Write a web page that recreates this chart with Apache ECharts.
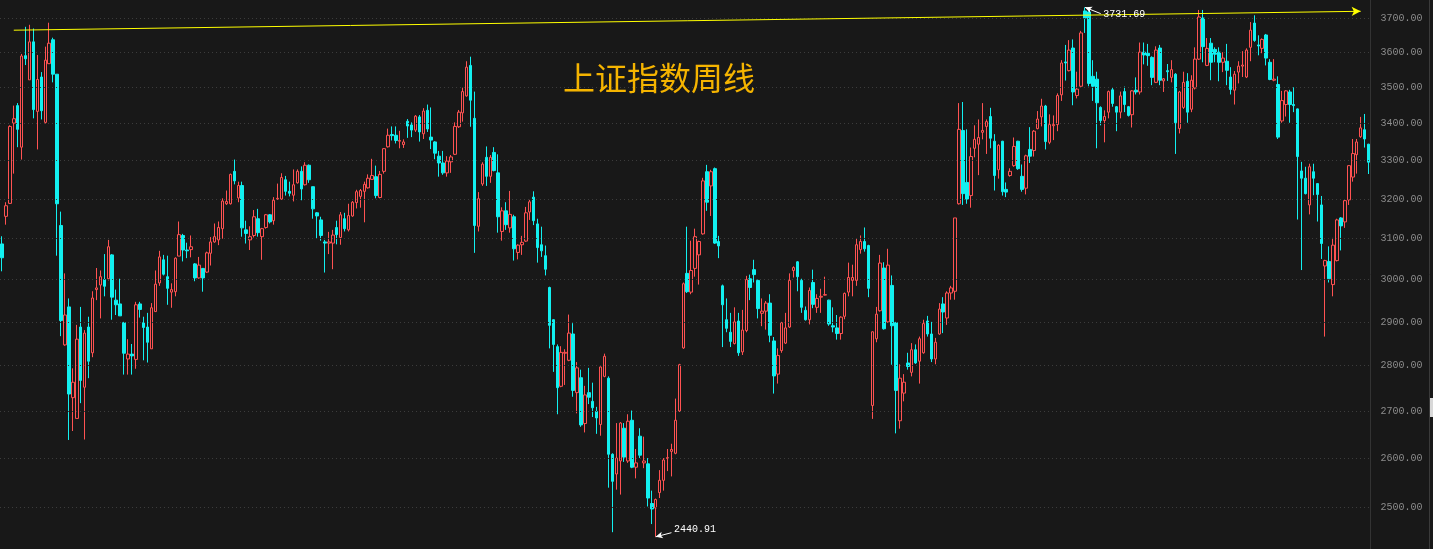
<!DOCTYPE html>
<html>
<head>
<meta charset="utf-8">
<script src="https://cdn.jsdelivr.net/npm/echarts@6/dist/echarts.min.js"></script>
<style>
html,body{margin:0;padding:0;background:#181818;}
#chart{width:1433px;height:549px;}
</style>
</head>
<body>
<div id="chart"></div>
<script>
// Weekly Shanghai Composite candles, oldest first
const open = [
3087,3156,3189,3401,3449,3336,3590,3521,3630,3433,
3529,3403,3567,3636,3537,3133,2847,2935,2729,2684,
2888,2752,2888,2829,2976,2987,3000,3002,3060,2951,
2942,2898,2815,2826,2814,2942,2898,2888,2838,2924,
2992,3048,3007,2970,2971,3057,3108,3072,3073,3038,
3004,3027,3018,3064,3092,3097,3125,3188,3188,3272,
3203,3235,3122,3097,3108,3150,3105,3128,3160,3145,
3200,3200,3250,3220,3210,3242,3272,3237,3288,3232,
3165,3147,3092,3089,3089,3128,3103,3150,3122,3157,
3191,3207,3220,3229,3251,3258,3204,3272,3337,3370,
3368,3352,3343,3406,3396,3382,3418,3372,3436,3363,
3350,3312,3294,3268,3297,3317,3391,3429,3476,3562,
3414,3131,3239,3309,3259,3322,3268,3118,3170,3127,
3155,3066,3085,3094,3167,3205,3137,3085,3058,2981,
2905,2843,2754,2828,2812,2872,2740,2773,2673,2740,
2721,2699,2671,2776,2772,2608,2567,2594,2663,2594,
2680,2581,2646,2590,2588,2507,2498,2529,2554,2599,
2614,2610,2700,2840,3015,2970,3027,3060,3112,3271,
3234,3279,3093,2985,2905,2876,2850,2902,2831,2880,
3002,3024,2998,2920,2925,2944,2856,2781,2834,2851,
2888,3022,3043,2998,2927,2905,2993,2934,2958,2963,
2951,2891,2886,2873,2913,2970,2998,2998,3073,3093,
3083,2712,2861,2926,3028,2900,2986,2898,2679,2739,
2806,2785,2836,2810,2829,2902,2872,2815,2872,2942,
2909,2968,2972,3188,3381,3243,3209,3333,3344,3376,
3392,3419,3352,3276,3352,3225,3261,3287,3352,3259,
3228,3330,3327,3386,3418,3448,3349,3394,3397,3479,
3572,3547,3612,3477,3503,3721,3718,3531,3523,3444,
3408,3431,3493,3446,3431,3488,3446,3424,3492,3487,
3600,3597,3585,3514,3612,3518,3547,3528,3537,3386,
3444,3517,3439,3498,3580,3700,3562,3626,3608,3600,
3571,3574,3529,3492,3543,3560,3529,3614,3685,3621,
3611,3650,3571,3520,3508,3407,3452,3487,3452,3440,
3273,3254,3185,3271,3240,3185,3033,3044,2988,3046,
3152,3142,3198,3257,3316,3364,3383,3344
];
const close = [
3053,3183,3392,3413,3384,3589,3581,3630,3438,3522,
3435,3577,3626,3537,3188,2903,2916,2737,2763,2860,
2767,2874,2810,2956,2980,3007,2984,3080,2958,2940,
2914,2828,2826,2822,2940,2929,2887,2853,2933,2989,
3055,3013,2979,2976,3052,3110,3072,3070,3080,3004,
3035,3004,3065,3092,3105,3128,3195,3194,3264,3247,
3235,3127,3113,3105,3155,3115,3125,3160,3142,3197,
3202,3256,3220,3215,3237,3272,3226,3288,3250,3175,
3157,3108,3089,3092,3109,3110,3160,3125,3158,3192,
3219,3222,3238,3254,3261,3209,3264,3332,3368,3367,
3354,3354,3350,3393,3382,3420,3377,3434,3385,3355,
3320,3294,3268,3299,3310,3392,3431,3488,3557,3464,
3133,3201,3291,3259,3309,3274,3155,3170,3135,3161,
3075,3084,3091,3165,3193,3145,3078,3070,3025,2892,
2848,2751,2830,2830,2874,2745,2795,2670,2735,2730,
2707,2685,2797,2821,2608,2552,2600,2674,2602,2678,
2581,2590,2606,2594,2518,2496,2515,2554,2596,2601,
2618,2680,2802,2990,2971,3022,3105,3093,3247,3192,
3271,3089,3082,2940,2885,2855,2900,2829,2881,3000,
2981,3012,2931,2925,2944,2869,2777,2823,2898,2886,
2998,3029,3007,2934,2905,2974,2941,2955,2960,2964,
2895,2888,2873,2911,2967,3005,3005,3085,3093,3075,
2979,2877,2918,3040,2884,3035,2891,2745,2772,2763,
2798,2836,2806,2861,2896,2872,2815,2853,2930,2923,
2968,2980,3152,3384,3214,3200,3311,3357,3362,3381,
3405,3360,3261,3341,3219,3218,3272,3338,3279,3225,
3313,3312,3379,3412,3448,3351,3397,3397,3477,3569,
3569,3606,3487,3495,3656,3700,3511,3503,3457,3408,
3419,3488,3455,3431,3476,3452,3422,3490,3487,3600,
3592,3590,3528,3606,3520,3524,3544,3550,3402,3487,
3514,3431,3520,3580,3703,3616,3611,3571,3594,3571,
3583,3548,3494,3537,3560,3563,3606,3664,3634,3618,
3637,3583,3522,3523,3363,3463,3490,3452,3449,3311,
3254,3214,3284,3254,3212,3088,3046,3002,3084,3147,
3132,3196,3287,3319,3350,3388,3358,3296
];
const low = [
3020,3135,3188,3266,3336,3303,3563,3521,3414,3330,
3411,3400,3567,3514,3058,2867,2845,2638,2657,2684,
2717,2639,2772,2819,2951,2908,2960,2998,2905,2916,
2914,2780,2780,2780,2793,2910,2812,2807,2838,2924,
2985,3010,2940,2933,2960,3057,3044,3052,3054,2996,
3002,2971,3016,3034,3090,3084,3100,3185,3186,3238,
3192,3105,3088,3072,3103,3105,3048,3125,3138,3135,
3198,3198,3209,3207,3194,3240,3197,3235,3242,3150,
3100,3095,3017,3062,3025,3086,3085,3118,3118,3155,
3176,3178,3141,3227,3250,3202,3202,3266,3335,3354,
3346,3333,3334,3361,3363,3377,3351,3358,3377,3331,
3304,3258,3263,3258,3268,3315,3388,3405,3474,3391,
3065,3118,3234,3234,3242,3272,3115,3095,3122,3115,
3046,3049,3060,3092,3147,3134,3041,3055,3010,2839,
2786,2693,2752,2757,2810,2731,2695,2666,2654,2715,
2687,2651,2647,2774,2539,2450,2535,2525,2592,2590,
2579,2558,2600,2579,2501,2466,2440.91,2518,2533,2573,
2562,2608,2698,2838,2968,2965,3007,2988,3110,3170,
3157,3087,3052,2842,2876,2842,2848,2822,2824,2876,
2951,2993,2908,2890,2882,2853,2738,2760,2829,2849,
2886,3005,2972,2921,2903,2894,2932,2921,2921,2962,
2891,2876,2859,2859,2906,2960,2960,2985,3063,3068,
2958,2683,2853,2924,2882,2898,2802,2652,2662,2721,
2791,2776,2804,2760,2827,2866,2808,2803,2870,2874,
2893,2952,2952,3186,3185,3188,3178,3309,3262,3357,
3318,3333,3222,3253,3209,3205,3258,3284,3276,3219,
3212,3294,3311,3384,3392,3330,3344,3355,3379,3462,
3519,3545,3450,3469,3500,3656,3503,3462,3333,3395,
3349,3414,3446,3379,3414,3431,3419,3389,3480,3480,
3565,3561,3506,3512,3506,3487,3518,3514,3318,3373,
3440,3402,3431,3494,3578,3571,3560,3520,3571,3517,
3543,3506,3480,3452,3511,3529,3526,3574,3630,3591,
3597,3562,3520,3517,3358,3402,3419,3402,3431,3148,
3023,3212,3161,3210,3143,3050,2866,2993,2960,3044,
3071,3127,3185,3245,3266,3361,3335,3265
];
const high = [
3106,3192,3395,3449,3456,3595,3674,3680,3669,3592,
3543,3616,3686,3642,3537,3168,3015,2955,2794,2893,
2935,2881,2912,2972,3028,3022,3062,3097,3062,2976,
3002,2900,2860,2849,2947,2947,2912,2921,2944,3022,
3070,3060,3058,2991,3054,3143,3112,3090,3108,3040,
3055,3028,3068,3104,3138,3143,3202,3222,3266,3303,
3245,3245,3145,3131,3172,3175,3127,3162,3162,3205,
3240,3267,3260,3245,3277,3277,3285,3296,3290,3232,
3167,3155,3097,3117,3122,3145,3167,3165,3188,3195,
3224,3226,3245,3264,3305,3287,3273,3333,3386,3392,
3392,3380,3357,3412,3403,3423,3423,3442,3452,3444,
3352,3326,3326,3312,3315,3403,3437,3499,3574,3587,
3488,3218,3296,3338,3315,3336,3317,3179,3192,3221,
3160,3086,3107,3180,3198,3220,3150,3130,3083,2983,
2906,2848,2844,2837,2917,2897,2808,2791,2755,2795,
2762,2709,2798,2827,2776,2610,2674,2676,2674,2693,
2701,2619,2663,2645,2600,2533,2517,2575,2600,2619,
2630,2727,2804,2993,3130,3095,3125,3095,3255,3289,
3276,3282,3107,2988,2955,2921,2934,2921,2928,3009,
3012,3048,3000,2955,2949,2965,2865,2839,2900,2921,
3015,3032,3045,3002,2936,2981,3024,2965,2978,3007,
2952,2934,2916,2913,2969,3041,3036,3100,3108,3128,
3085,2878,2935,3060,3042,3075,3010,2900,2803,2781,
2829,2851,2848,2866,2905,2914,2900,2863,2944,2958,
2972,2985,3152,3456,3459,3384,3335,3395,3411,3456,
3411,3443,3371,3344,3353,3243,3280,3362,3353,3290,
3316,3390,3382,3434,3468,3451,3425,3422,3483,3577,
3621,3635,3637,3544,3662,3731.69,3720,3577,3544,3447,
3436,3491,3498,3448,3488,3502,3448,3492,3528,3628,
3628,3624,3588,3617,3621,3526,3566,3577,3540,3490,
3544,3540,3534,3614,3724,3724,3641,3641,3614,3614,
3600,3624,3557,3546,3574,3603,3611,3688,3708,3649,
3640,3653,3580,3580,3531,3490,3492,3493,3500,3441,
3297,3284,3292,3292,3241,3208,3048,3081,3102,3150,
3154,3198,3288,3358,3358,3418,3426,3345
];
const priceTicks = [2500,2600,2700,2800,2900,3000,3100,3200,3300,3400,3500,3600,3700];
const trendLine = [[3, 3664], [345, 3720]];
const highNote = {index: 275, value: 3731.69, text: '3731.69'};
const lowNote = {index: 166, value: 2440.91, text: '2440.91'};
const titleText = '上证指数周线';

const weeks = open.map((_, i) => String(i));
const kdata = open.map((o, i) => [o, close[i], low[i], high[i]]);

const RED = '#ff5252';
const CYAN = '#12f0f0';
const BG = '#181818';
const MONO = '"Liberation Mono", "DejaVu Sans Mono", monospace';

const chart = echarts.init(document.getElementById('chart'), null, {renderer: 'canvas'});

const gridLines = priceTicks.map(v => ({yAxis: v}));
const arrowLine = (from, to, color, size) => [
  {coord: from, symbol: 'none', lineStyle: {color: color, type: 'solid', width: 1}, label: {show: false}},
  {coord: to, symbol: 'arrow', symbolSize: size}
];

chart.setOption({
  backgroundColor: BG,
  animation: false,
  grid: {left: -2.4, right: 62.5, top: 0, bottom: 0},
  xAxis: {
    type: 'category', data: weeks, boundaryGap: true, show: false
  },
  yAxis: {
    type: 'log', logBase: 10, min: 2417.2, max: 3753.8, position: 'right',
    axisLine: {show: true, lineStyle: {color: '#333333', width: 1}},
    axisTick: {show: false}, axisLabel: {show: false},
    splitLine: {show: false}, minorSplitLine: {show: false}
  },
  graphic: [
    {type: 'text', left: 563, top: 62, z: 100,
     style: {text: titleText, fill: '#f5b400', font: '32px "Noto Sans CJK SC"'}},
    {type: 'line', shape: {x1: 1429.5, y1: 0, x2: 1429.5, y2: 549}, style: {stroke: '#3a3a3a', lineWidth: 1}},
    {type: 'rect', shape: {x: 1430, y: 398, width: 3, height: 19}, style: {fill: '#d8d8d8'}}
  ],
  series: [{
    type: 'candlestick',
    data: kdata,
    barWidth: 3,
    itemStyle: {
      color: BG, color0: CYAN,
      borderColor: RED, borderColor0: CYAN, borderColorDoji: RED,
      borderWidth: 1
    },
    markLine: {
      silent: true, animation: false,
      symbol: ['none', 'none'],
      lineStyle: {color: '#3c3c3c', type: [1, 3], width: 1},
      label: {
        show: true, position: 'end', distance: 10,
        color: '#8c8c8c', fontFamily: MONO, fontSize: 10,
        formatter: p => Number(p.value).toFixed(2)
      },
      emphasis: {disabled: true},
      data: gridLines.concat([
        arrowLine(trendLine[0], trendLine[1], '#ffff00', [7, 9]),
        arrowLine([highNote.index + 4, 3713], [highNote.index, highNote.value], '#ffffff', [5, 7]),
        arrowLine([lowNote.index + 4, 2449], [lowNote.index, lowNote.value], '#ffffff', [5, 7])
      ])
    },
    markPoint: {
      silent: true, animation: false,
      symbol: 'circle', symbolSize: 1,
      itemStyle: {color: 'rgba(0,0,0,0)'},
      label: {show: true, position: 'right', distance: 2, color: '#ffffff', fontFamily: MONO, fontSize: 10},
      data: [
        {coord: [highNote.index + 4, 3712], label: {formatter: highNote.text}},
        {coord: [lowNote.index + 4, 2456.3], label: {formatter: lowNote.text}}
      ]
    }
  }]
});
</script>
</body>
</html>
